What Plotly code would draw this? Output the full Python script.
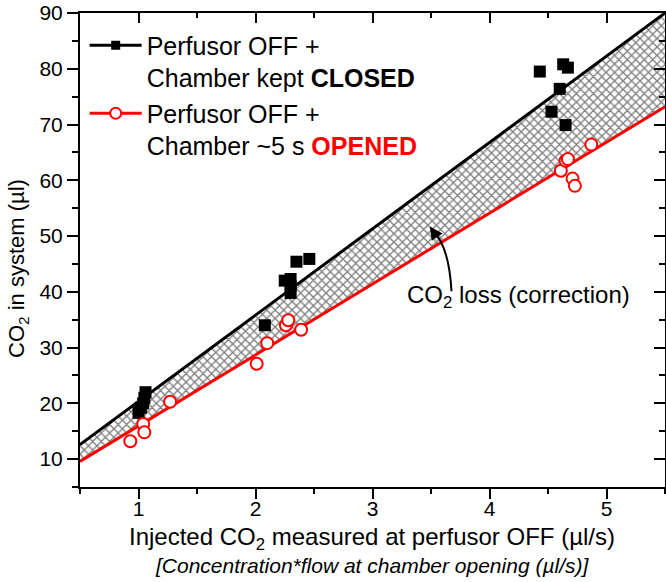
import plotly.graph_objects as go

# measured points, chamber kept closed
closed_x = [1.00, 1.02, 1.04, 1.05, 1.06, 2.08, 2.25, 2.30, 2.30, 2.30, 2.35, 2.46,
            4.43, 4.53, 4.60, 4.63, 4.65, 4.67]
closed_y = [18.3, 19.2, 20.0, 21.0, 22.0, 34.0, 42.0, 42.3, 41.0, 39.8, 45.4, 45.9,
            79.5, 72.3, 76.4, 80.8, 69.9, 80.2]

# measured points, chamber opened ~5 s
opened_x = [0.93, 1.04, 1.05, 1.27, 2.01, 2.10, 2.26, 2.28, 2.39,
            4.61, 4.65, 4.67, 4.71, 4.73, 4.87]
opened_y = [13.2, 16.3, 14.8, 20.3, 27.1, 30.8, 34.0, 34.9, 33.2,
            61.7, 63.5, 63.8, 60.3, 59.0, 66.4]

# linear fits (end points)
fit_x = [0.5, 5.5]
closed_fit = [12.6, 90.0]
opened_fit = [9.6, 73.2]

FONT = "Arial, Liberation Sans, sans-serif"

fig = go.Figure()

# fit lines + hatched area between them
fig.add_trace(go.Scatter(x=fit_x, y=opened_fit, mode='lines',
                         line=dict(color='#ff0000', width=3),
                         showlegend=False, hoverinfo='skip'))
fig.add_trace(go.Scatter(x=fit_x, y=closed_fit, mode='lines',
                         line=dict(color='black', width=3),
                         fill='tonexty', fillcolor='white',
                         fillpattern=dict(shape='x', size=6, solidity=0.4,
                                          fgcolor='black', bgcolor='white'),
                         showlegend=False, hoverinfo='skip'))

# data points
fig.add_trace(go.Scatter(x=closed_x, y=closed_y, mode='markers',
                         marker=dict(symbol='square', size=12, color='black'),
                         showlegend=False))
fig.add_trace(go.Scatter(x=opened_x, y=opened_y, mode='markers',
                         marker=dict(symbol='circle', size=12, color='white',
                                     line=dict(color='#ff0000', width=2)),
                         showlegend=False))

# legend entries
fig.add_trace(go.Scatter(x=[None], y=[None], mode='lines+markers',
                         line=dict(color='black', width=3),
                         marker=dict(symbol='square', size=9, color='black'),
                         name='Perfusor OFF +<br>Chamber kept <b>CLOSED</b>'))
fig.add_trace(go.Scatter(x=[None], y=[None], mode='lines+markers',
                         line=dict(color='#ff0000', width=3),
                         marker=dict(symbol='circle', size=11, color='white',
                                     line=dict(color='#ff0000', width=2)),
                         name="Perfusor OFF +<br>Chamber ~5 s <span style='color:#ff0000'><b>OPENED</b></span>"))

# dummy trace so the mirrored top/right axes get drawn
fig.add_trace(go.Scatter(x=[None], y=[None], xaxis='x2', yaxis='y2',
                         showlegend=False, hoverinfo='skip'))

# curved arrow pointing into the hatched area
fig.add_shape(type='path', xref='x', yref='y',
              path='M 3.675,40.1 Q 3.654,48.2 3.517,50.9',
              line=dict(color='black', width=2))
fig.add_annotation(x=3.49, y=51.73, ax=3.517, ay=50.9, xref='x', yref='y',
                   axref='x', ayref='y', text='', showarrow=True,
                   arrowhead=2, arrowsize=1.3, arrowwidth=2, arrowcolor='black')
fig.add_annotation(x=4.25, y=39.1, xref='x', yref='y',
                   text='CO<sub>2</sub> loss (correction)', showarrow=False,
                   xanchor='center', yanchor='middle',
                   font=dict(size=24, color='black', family=FONT))

# axis titles
fig.add_annotation(x=-0.106, y=0.462, xref='paper', yref='paper',
                   xanchor='center', yanchor='middle',
                   text='CO<sub>2</sub> in system (µl)', textangle=-90,
                   showarrow=False, font=dict(size=22, color='black', family=FONT))
fig.add_annotation(x=0.499, y=-0.109, xref='paper', yref='paper',
                   xanchor='center', yanchor='middle',
                   text='Injected CO<sub>2</sub> measured at perfusor OFF (µl/s)',
                   showarrow=False, font=dict(size=24, color='black', family=FONT))
fig.add_annotation(x=0.499, y=-0.165, xref='paper', yref='paper',
                   xanchor='center', yanchor='middle',
                   text='<i>[Concentration*flow at chamber opening (µl/s)]</i>',
                   showarrow=False, font=dict(size=21, color='black', family=FONT))

axis_common = dict(showgrid=False, zeroline=False, showline=True,
                   linecolor='black', linewidth=2, tickcolor='black', tickwidth=2)

fig.update_layout(
    width=666, height=582,
    margin=dict(l=80, r=1, t=11, b=95),
    plot_bgcolor='white', paper_bgcolor='white',
    font=dict(family=FONT, size=22, color='black'),
    xaxis=dict(range=[0.5, 5.5], dtick=1, tick0=0, ticks='outside', ticklen=10,
               ticklabelstandoff=-8, ticklabeloverflow='allow',
               tickfont=dict(size=21),
               minor=dict(dtick=0.5, ticks='outside', ticklen=5,
                          tickcolor='black', tickwidth=2),
               **axis_common),
    yaxis=dict(range=[5, 90], dtick=10, tick0=0, ticks='outside', ticklen=11,
               ticklabeloverflow='allow', tickfont=dict(size=21),
               minor=dict(dtick=5, ticks='outside', ticklen=6,
                          tickcolor='black', tickwidth=2),
               **axis_common),
    xaxis2=dict(overlaying='x', matches='x', side='top', ticks='inside',
                ticklen=10, dtick=1, tick0=0, showticklabels=False,
                minor=dict(dtick=0.5, ticks='inside', ticklen=5,
                           tickcolor='black', tickwidth=2),
                **axis_common),
    yaxis2=dict(overlaying='y', matches='y', side='right', ticks='inside',
                ticklen=11, dtick=10, tick0=0, showticklabels=False,
                minor=dict(dtick=5, ticks='inside', ticklen=6,
                           tickcolor='black', tickwidth=2),
                **axis_common),
    showlegend=True,
    legend=dict(x=0.008, y=0.98, xanchor='left', yanchor='top',
                bgcolor='rgba(0,0,0,0)', itemwidth=52, valign='top',
                traceorder='normal',
                font=dict(size=25, family=FONT, color='black'),
                tracegroupgap=0),
)

# drop the default 8 px page margin so the figure fills the window
fig.write_html("out.html", config={'displayModeBar': False},
               post_script="document.body.style.margin='0';")
